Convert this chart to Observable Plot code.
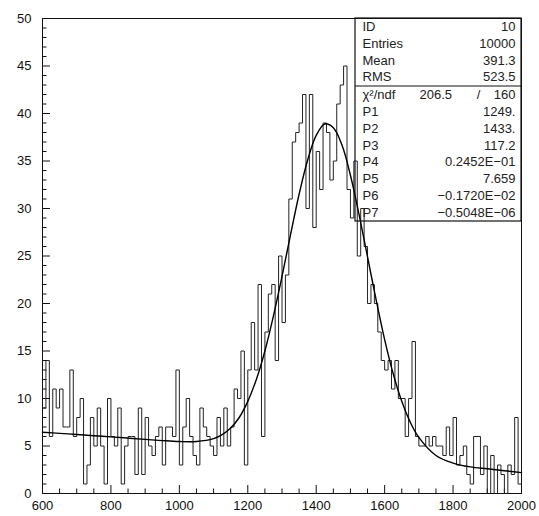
<!DOCTYPE html>
<html>
<head>
<meta charset="utf-8">
<script src="https://cdn.jsdelivr.net/npm/d3@7"></script>
<script src="https://cdn.jsdelivr.net/npm/@observablehq/plot@0.6"></script>
<style>
  html, body { margin: 0; padding: 0; background: #fff; }
  svg { display: block; }
</style>
</head>
<body>
<div id="chart"></div>
<script>
// ---------- data ----------
const binLow = 600;
const binWidth = 10;
// entries per bin, 600 .. 1990 (bin low edges)
const counts = [
  9, 14, 6, 11, 9, 11, 7, 7, 13, 6,       // 600-690
  8, 10, 1, 3, 8, 5, 9, 5, 1, 10,         // 700-790
  6, 5, 9, 1, 5, 6, 6, 2, 9, 2,           // 800-890
  8, 5, 4, 6, 7, 3, 7, 7, 6, 13,          // 900-990
  3, 7, 10, 6, 4, 3, 9, 7, 6, 5,          // 1000-1090
  4, 8, 5, 9, 5, 7, 11, 10, 15, 3,        // 1100-1190
  13, 18, 13, 22, 6, 17, 21, 22, 14, 25,  // 1200-1290
  18, 23, 31, 37, 38, 39, 42, 30, 42, 28, // 1300-1390
  36, 32, 39, 38, 33, 35, 41, 43, 45, 32, // 1400-1490
  29, 35, 25, 30, 26, 20, 22, 20, 17, 14, // 1500-1590
  13, 14, 11, 14, 10, 10, 6, 10, 16, 6,   // 1600-1690
  5, 5, 6, 5, 6, 5, 5, 4, 7, 4,           // 1700-1790
  8, 3, 4, 5, 2, 1, 6, 6, 2, 5,           // 1800-1890
  0, 4, 0, 3, 2, 0, 3, 2, 8, 1            // 1900-1990
];

// fitted curve
const fitX = [600, 650, 700, 750, 800, 850, 900, 950, 1000, 1050, 1100, 1125, 1150, 1175, 1200,
  1225, 1250, 1275, 1300, 1325, 1350, 1375, 1400, 1425, 1450, 1475, 1500, 1525, 1550, 1575,
  1600, 1625, 1650, 1675, 1700, 1750, 1800, 1850, 1900, 1950, 2000];
const fitY = [6.45, 6.33, 6.21, 6.08, 5.96, 5.83, 5.70, 5.57, 5.47, 5.47, 5.77, 6.19, 6.90, 8.0, 9.7,
  12.0, 15.0, 18.7, 22.85, 27.25, 31.5, 35.1, 37.7, 38.9, 38.5, 36.7, 33.5, 29.4, 24.9, 20.4,
  16.2, 12.6, 9.7, 7.5, 5.9, 4.0, 3.2, 2.8, 2.6, 2.4, 2.2];

// axis ticks
const xMajor = [600, 800, 1000, 1200, 1400, 1600, 1800, 2000];
const xMinor = [650, 700, 750, 850, 900, 950, 1050, 1100, 1150, 1250, 1300, 1350,
  1450, 1500, 1550, 1650, 1700, 1750, 1850, 1900, 1950];
const yMajor = [0, 5, 10, 15, 20, 25, 30, 35, 40, 45, 50];
const yMinor = d3.range(0, 51).filter(v => v % 5 !== 0);

// statistics box
const statLabels = ["ID", "Entries", "Mean", "RMS", "\u03c7\u00b2/ndf", "P1", "P2", "P3", "P4", "P5", "P6", "P7"];
const statValues = ["10", "10000", "391.3", "523.5", "160", "1249.", "1433.", "117.2",
  "0.2452E\u221201", "7.659", "\u22120.1720E\u221202", "\u22120.5048E\u221206"];
const chi2Value = "206.5";
const chi2Slash = "/";

// ---------- build ----------
const W = 539, H = 516;
const mL = 42, mR = 18, mT = 18, mB = 23;
const xDom = [600, 2000], yDom = [0, 50];
const pxPerX = (W - mL - mR) / (xDom[1] - xDom[0]);
const pxPerY = (H - mT - mB) / (yDom[1] - yDom[0]);
const dx = px => px / pxPerX;           // pixel length -> x units
const dy = px => px / pxPerY;           // pixel length -> y units
const yAtPx = py => yDom[1] - (py - mT) / pxPerY;
const xAtPx = px => xDom[0] + (px - mL) / pxPerX;

// histogram outline points
const hist = [{x: binLow, y: 0}];
counts.forEach((c, i) => hist.push({x: binLow + i * binWidth, y: c}));
hist.push({x: binLow + counts.length * binWidth, y: counts[counts.length - 1]});
hist.push({x: binLow + counts.length * binWidth, y: 0});

const fit = fitX.map((x, i) => ({x, y: fitY[i]}));

// stats box geometry (pixel layout -> data coords)
const boxX1 = xAtPx(355), boxX2 = xDom[1];
const boxTop = yDom[1], boxBottom = yAtPx(221), sepY = yAtPx(85.5);
const rowPy = i => 26.5 + 16.75 * i + (i >= 4 ? 1.3 : 0);
const stats = statLabels.map((lab, i) => ({lab, val: statValues[i], y: yAtPx(rowPy(i))}));
const labX = xAtPx(362), valX = xAtPx(515);

const ink = "#111";
const font = "'Liberation Sans', Arial, Helvetica, sans-serif";

const chart = Plot.plot({
  width: W, height: H,
  marginLeft: mL, marginRight: mR, marginTop: mT, marginBottom: mB,
  x: {domain: xDom},
  y: {domain: yDom},
  style: {fontFamily: font, fontSize: "13px", color: ink, background: "#fff"},
  marks: [
    Plot.axisX({ticks: xMajor, tickSize: 0, tickPadding: 7, label: null, tickFormat: d => String(d), fontSize: 13}),
    Plot.axisY({ticks: yMajor, tickSize: 0, tickPadding: 11, label: null, tickFormat: d => String(d), fontSize: 13}),
    // inward ticks
    Plot.ruleX(xMajor, {y1: 0, y2: dy(8), stroke: ink, strokeWidth: 1}),
    Plot.ruleX(xMinor, {y1: 0, y2: dy(4.5), stroke: ink, strokeWidth: 1}),
    Plot.ruleY(yMajor, {x1: xDom[0], x2: xDom[0] + dx(8), stroke: ink, strokeWidth: 1}),
    Plot.ruleY(yMinor, {x1: xDom[0], x2: xDom[0] + dx(4.5), stroke: ink, strokeWidth: 1}),
    // histogram
    Plot.line(hist, {x: "x", y: "y", curve: "step-after", stroke: "#222", strokeWidth: 1}),
    // fit
    Plot.line(fit, {x: "x", y: "y", curve: "catmull-rom", stroke: "#000", strokeWidth: 1.4}),
    // stats box
    Plot.rect([0], {x1: boxX1, x2: boxX2, y1: boxBottom, y2: boxTop, fill: "none", stroke: ink, strokeWidth: 1.2}),
    Plot.ruleY([sepY], {x1: boxX1, x2: boxX2, stroke: ink, strokeWidth: 1.2}),
    Plot.text(stats, {x: labX, y: "y", text: "lab", textAnchor: "start", fill: "#222", fontSize: 13}),
    Plot.text(stats, {x: valX, y: "y", text: "val", textAnchor: "end", fill: "#222", fontSize: 13}),
    Plot.text([chi2Value], {x: xAtPx(419), y: stats[4].y, text: d => d, textAnchor: "start", fill: "#222", fontSize: 13}),
    Plot.text([chi2Slash], {x: xAtPx(478), y: stats[4].y, text: d => d, textAnchor: "middle", fill: "#222", fontSize: 13}),
    // frame
    Plot.frame({stroke: ink, strokeWidth: 1})
  ]
});
document.getElementById("chart").appendChild(chart);
</script>
</body>
</html>
